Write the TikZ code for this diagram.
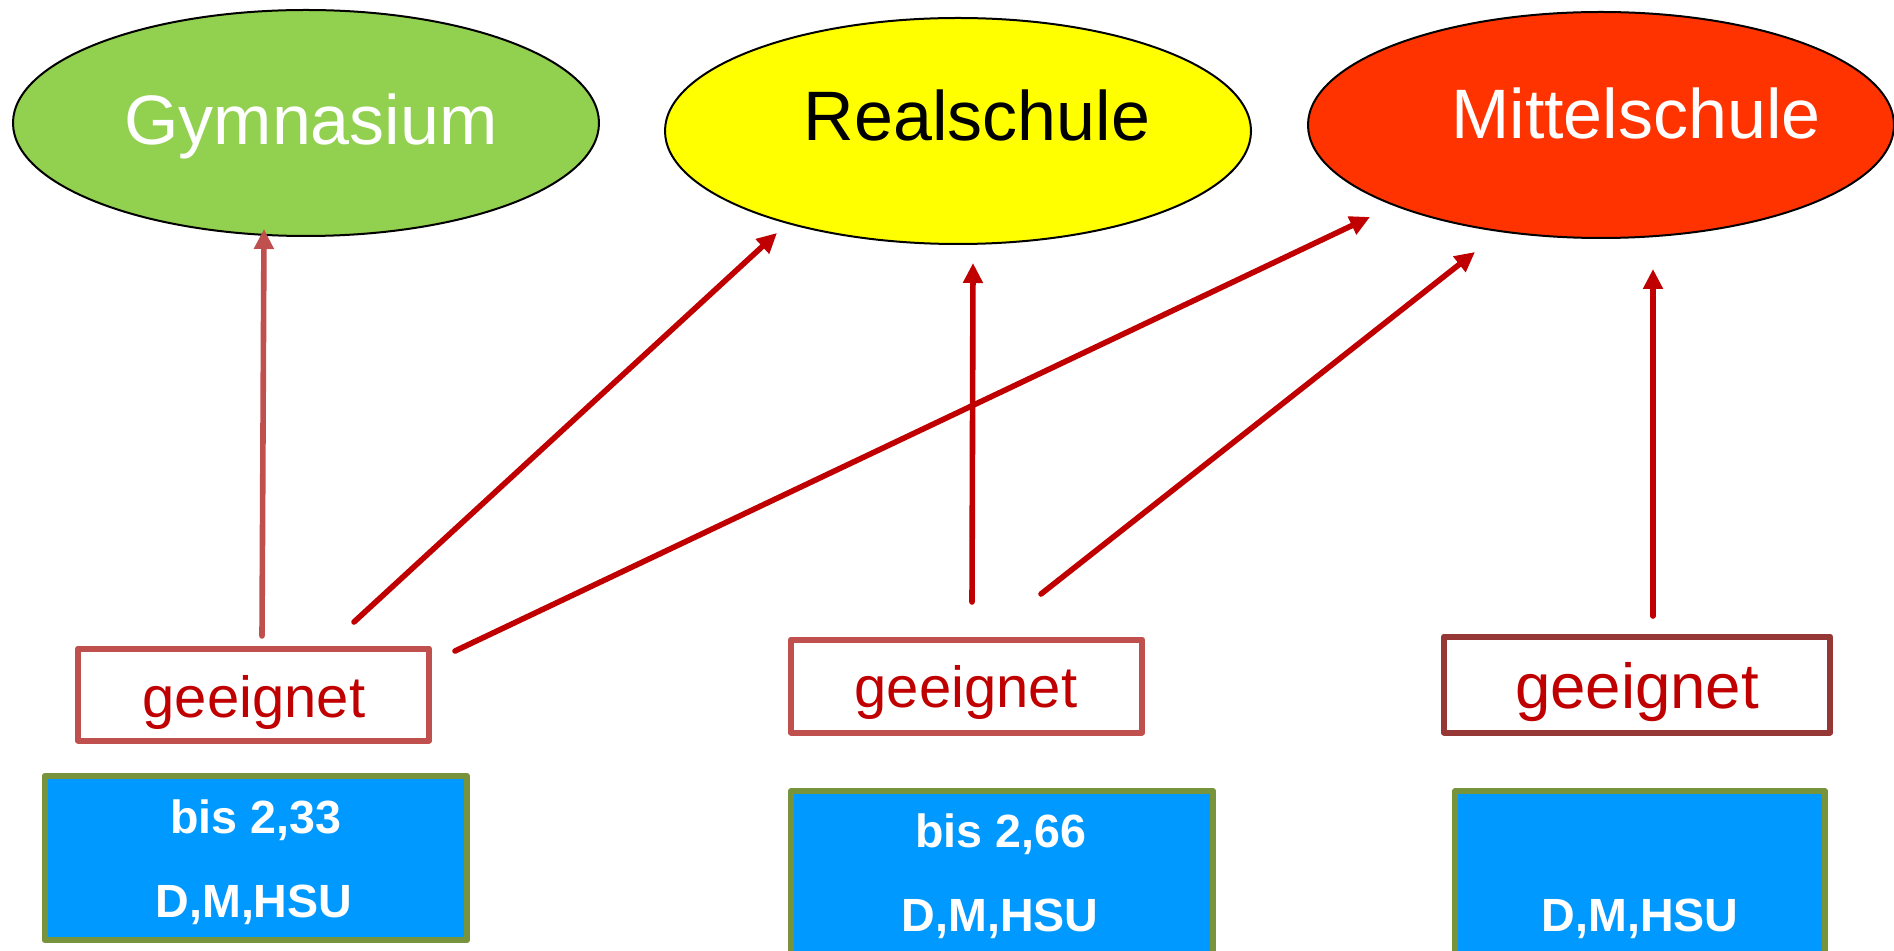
\documentclass[tikz,border=0pt]{standalone}
\usepackage{fontspec}
\setmainfont{Liberation Sans}
\usetikzlibrary{arrows.meta, shapes}
\usetikzlibrary{positioning}
\definecolor{gymgreen}{RGB}{146,208,80}
\definecolor{realyellow}{RGB}{255,255,0}
\definecolor{mittelred}{RGB}{255,51,0}
\definecolor{linkred}{RGB}{192,0,0}
\definecolor{softred}{RGB}{192,80,77}
\definecolor{boxbrown}{RGB}{149,55,53}
\definecolor{gradeblue}{RGB}{0,153,255}
\definecolor{gradeolive}{RGB}{119,147,60}
\begin{document}
\begin{tikzpicture}[line cap=round,line join=round,>={Triangle[length=10pt,width=9.5pt]},x=0.5pt,y=-0.5pt,
  school/.style={ellipse,draw=black,line width=1pt,inner sep=0pt,minimum width=293pt,minimum height=113pt},
  schoolname/.style={anchor=base,inner sep=0pt,font=\fontsize{35}{42}\selectfont},
  fitbox/.style={rectangle,draw=softred,fill=white,line width=3pt,inner sep=0pt},
  fittext/.style={anchor=base,inner sep=0pt,text=linkred,font=\fontsize{29}{35}\selectfont},
  gradebox/.style={rectangle,draw=gradeolive,fill=gradeblue,line width=3pt,inner sep=0pt},
  gradetext/.style={anchor=base,inner sep=0pt,text=white,font=\fontsize{23.3}{28}\selectfont\bfseries},
  link/.style={->,draw=linkred,line width=2.8pt}]
\useasboundingbox (0,0) rectangle (1894,951);
\clip (0,0) rectangle (1894,951);
% schools
\node[school,fill=gymgreen] (gym) at (306,123) {};
\node[school,fill=realyellow] (real) at (958,131) {};
\node[school,fill=mittelred] (mittel) at (1601,125) {};
\node[schoolname,text=white] (gymname) at (311,145) {Gymnasium};
\node[schoolname,text=black] (realname) at (977,141) {Realschule};
\node[schoolname,text=white] (mittelname) at (1636,139) {Mittelschule};
% geeignet boxes
\node[fitbox,minimum width=175.5pt,minimum height=46pt] (fitA) at (253.5,694.5) {};
\node[fitbox,minimum width=175.5pt,minimum height=46.5pt] (fitB) at (966.5,686) {};
\node[fitbox,draw=boxbrown,minimum width=193pt,minimum height=48pt] (fitC) at (1637,684.5) {};
\node[fittext] (fitAtext) at (254,717) {geeignet};
\node[fittext] (fitBtext) at (966,707) {geeignet};
\node[fittext,font=\fontsize{31.8}{38}\selectfont] (fitCtext) at (1637,708) {geeignet};
% grade boxes
\node[gradebox,minimum width=211.25pt,minimum height=82pt] (gradeA) at (255.75,858) {};
\node[gradebox,minimum width=211pt,minimum height=90pt] (gradeB) at (1002,881) {};
\node[gradebox,minimum width=184.75pt,minimum height=90pt] (gradeC) at (1640,881) {};
\node[gradetext] (gradeAtop) at (256,833) {bis 2,33};
\node[gradetext] (gradeAbot) at (254,917) {D,M,HSU};
\node[gradetext] (gradeBtop) at (1001,847) {bis 2,66};
\node[gradetext] (gradeBbot) at (1000,931) {D,M,HSU};
\node[gradetext] (gradeCbot) at (1640,931) {D,M,HSU};
% arrow ends
\coordinate (startA) at (262,636);
\coordinate (endA) at (264,229);
\coordinate (startB) at (354,622);
\coordinate (endB) at (777,233);
\coordinate (startC) at (455,651);
\coordinate (endC) at (1370,217);
\coordinate (startD) at (972,602);
\coordinate (endD) at (973,263);
\coordinate (startE) at (1041,594);
\coordinate (endE) at (1475,252);
\coordinate (startF) at (1653,616);
\coordinate (endF) at (1653,269);
\draw [link,draw=softred] (startA) -- (endA);
\draw [link] (startB) -- (endB);
\draw [link] (startC) -- (endC);
\draw [link] (startD) -- (endD);
\draw [link] (startE) -- (endE);
\draw [link] (startF) -- (endF);
\end{tikzpicture}
\end{document}
